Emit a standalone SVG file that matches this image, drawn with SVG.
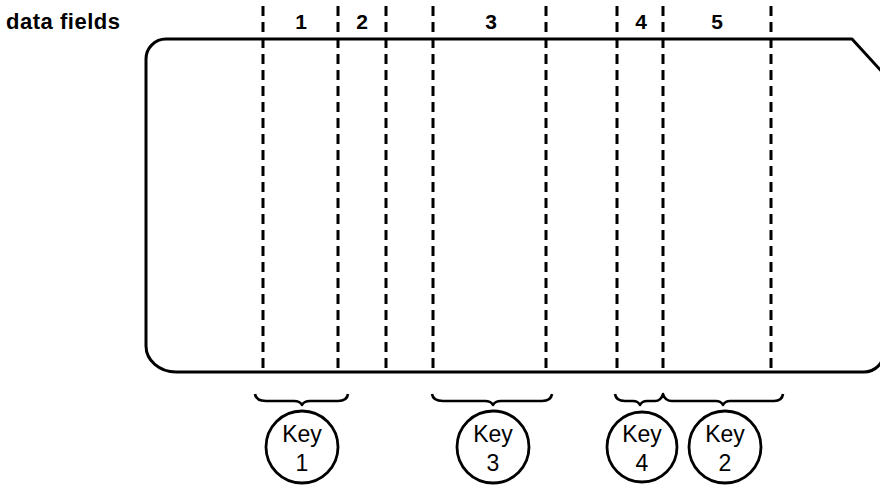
<svg xmlns="http://www.w3.org/2000/svg" width="880" height="487" viewBox="0 0 880 487">
<style>
.card{fill:none;stroke:#000;stroke-width:3;stroke-linejoin:round}
.dash{stroke:#000;stroke-width:3;stroke-dasharray:10 6;fill:none}
.brace{fill:none;stroke:#000;stroke-width:2.6;stroke-linejoin:round}
.circ{fill:#fff;stroke:#000;stroke-width:2.8}
.lbl{font-family:"Liberation Sans",Arial,sans-serif;font-weight:bold;font-size:22px;fill:#000}
.key{font-family:"Liberation Sans",Arial,sans-serif;font-size:23px;fill:#000;text-anchor:middle}
.num{font-family:"Liberation Sans",Arial,sans-serif;font-weight:bold;font-size:21px;fill:#000;text-anchor:middle}
</style>
<rect width="880" height="487" fill="#fff"/>
<text class="lbl" x="6" y="29" textLength="114">data fields</text>
<g id="card">
<path class="card" d="M166,39 H852 L884,74 V352 A20,20 0 0 1 864,372 H176 A30,26 0 0 1 146,346 V59 A20,20 0 0 1 166,39 Z"/>
</g>
<g id="fields">
<line class="dash" x1="263" y1="6" x2="263" y2="372"/>
<line class="dash" x1="338" y1="6" x2="338" y2="372"/>
<line class="dash" x1="386" y1="6" x2="386" y2="372"/>
<line class="dash" x1="433" y1="6" x2="433" y2="372"/>
<line class="dash" x1="546" y1="6" x2="546" y2="372"/>
<line class="dash" x1="617" y1="6" x2="617" y2="372"/>
<line class="dash" x1="663" y1="6" x2="663" y2="372"/>
<line class="dash" x1="771" y1="6" x2="771" y2="372"/>
<text class="num" x="301" y="29">1</text>
<text class="num" x="362" y="29">2</text>
<text class="num" x="491" y="29">3</text>
<text class="num" x="641" y="29">4</text>
<text class="num" x="717" y="29">5</text>
</g>
<g id="connectors">
<path class="brace" d="M255,394 Q256,401 266,401 H294 Q300,401 302,405 Q304,401 310,401 H338 Q347,401 348,394"/>
<path class="brace" d="M432,394 Q433,401 443,401 H485 Q491,401 493,405 Q495,401 501,401 H542 Q551,401 552,394"/>
<path class="brace" d="M615,394 Q616,401 625,401 H633 Q638,401 640,405 Q642,401 647,401 H655 Q661,401 663,394 Q665,401 672,401 H716 Q721,401 723,405 Q725,401 730,401 H774 Q782,401 783,394"/>
</g>
<g id="key1">
<circle class="circ" cx="302" cy="447" r="36"/>
<text class="key" x="302" y="442">Key</text>
<text class="key" x="302" y="471">1</text>
</g>
<g id="key3">
<circle class="circ" cx="493" cy="447" r="36"/>
<text class="key" x="493" y="442">Key</text>
<text class="key" x="493" y="471">3</text>
</g>
<g id="key4">
<circle class="circ" cx="642" cy="447" r="35"/>
<text class="key" x="642" y="442">Key</text>
<text class="key" x="642" y="471">4</text>
</g>
<g id="key2">
<circle class="circ" cx="725" cy="447" r="36"/>
<text class="key" x="725" y="442">Key</text>
<text class="key" x="725" y="471">2</text>
</g>
</svg>
